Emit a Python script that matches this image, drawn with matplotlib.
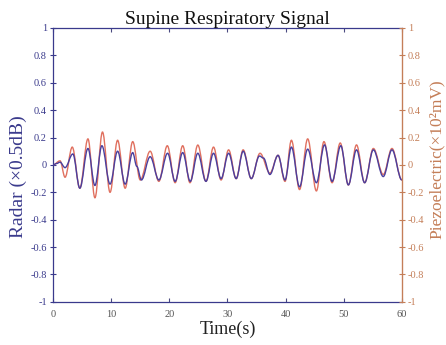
import matplotlib
matplotlib.use("Agg")
import matplotlib.pyplot as plt
from matplotlib.path import Path
from matplotlib.patches import PathPatch

# ---- data (extrema / key points) ----
radar_t = [0.0, 0.6, 1.2, 2.06, 3.4, 4.6, 6.0, 7.2, 8.4, 9.8, 11.1, 12.4, 13.7, 14.4, 15.2,
           16.7, 18.2, 19.7, 21.0, 22.3, 23.6, 24.9, 26.3, 27.6, 28.9, 30.2, 31.5, 32.7,
           34.1, 35.5, 36.2, 37.3, 38.7, 39.9, 41.0, 42.4, 43.8, 45.3, 46.7, 48.0, 49.5,
           50.8, 52.2, 53.6, 55.1, 56.8, 58.3, 60.0]
radar_v = [0.0, 0.01, 0.02, -0.02, 0.08, -0.17, 0.12, -0.15, 0.14, -0.14, 0.10, -0.14, 0.09, -0.01, -0.11,
           0.06, -0.11, 0.085, -0.12, 0.09, -0.12, 0.085, -0.12, 0.085, -0.10, 0.085, -0.10, 0.10,
           -0.10, 0.065, 0.05, -0.07, 0.07, -0.11, 0.13, -0.16, 0.115, -0.13, 0.146, -0.12, 0.14,
           -0.146, 0.11, -0.13, 0.11, -0.085, 0.11, -0.11]

piezo_t = [0.0, 1.2, 2.06, 3.3, 4.6, 6.0, 7.2, 8.5, 9.8, 11.1, 12.4, 13.7, 15.0, 16.7, 18.2,
           19.65, 21.0, 22.3, 23.55, 24.9, 26.3, 27.6, 28.9, 30.2, 31.5, 32.7, 34.1, 35.6,
           37.3, 38.7, 39.9, 41.0, 42.4, 43.8, 45.3, 46.6, 48.0, 49.4, 50.8, 52.2, 53.6,
           55.1, 56.8, 58.3, 60.0]
piezo_v = [0.0, 0.03, -0.09, 0.13, -0.17, 0.19, -0.24, 0.24, -0.20, 0.18, -0.17, 0.17, -0.11, 0.10, -0.12,
           0.14, -0.13, 0.14, -0.13, 0.145, -0.12, 0.13, -0.11, 0.11, -0.10, 0.11, -0.10, 0.085,
           -0.06, 0.07, -0.12, 0.18, -0.18, 0.19, -0.19, 0.17, -0.13, 0.16, -0.146, 0.146, -0.13,
           0.12, -0.07, 0.12, -0.11]

x_ticks = [0, 10, 20, 30, 40, 50, 60]
y_ticks = [-1, -0.8, -0.6, -0.4, -0.2, 0, 0.2, 0.4, 0.6, 0.8, 1]
y_labels = ["-1", "-0.8", "-0.6", "-0.4", "-0.2", "0", "0.2", "0.4", "0.6", "0.8", "1"]

BLUE_AX = "#3a3a8c"
ORANGE_AX = "#c47e58"
BLUE_LINE = "#4a3f9e"
RED_LINE = "#e0705f"

plt.rcParams["font.family"] = ["Liberation Serif", "DejaVu Serif"]


def smooth_path(ts, vs, k=0.36):
    verts = [(ts[0], vs[0])]
    codes = [Path.MOVETO]
    for i in range(1, len(ts)):
        t0, v0, t1, v1 = ts[i - 1], vs[i - 1], ts[i], vs[i]
        d = (t1 - t0) * k
        verts += [(t0 + d, v0), (t1 - d, v1), (t1, v1)]
        codes += [Path.CURVE4, Path.CURVE4, Path.CURVE4]
    return Path(verts, codes)


fig = plt.figure(figsize=(4.46, 3.45), dpi=100)
ax = fig.add_axes([0.119, 0.125, 0.782, 0.794])
ax.set_xlim(0, 60)
ax.set_ylim(-1, 1)

ax.add_patch(PathPatch(smooth_path(piezo_t, piezo_v), fill=False, edgecolor=RED_LINE, lw=1.0, zorder=2))
ax.add_patch(PathPatch(smooth_path(radar_t, radar_v), fill=False, edgecolor=BLUE_LINE, lw=1.0, zorder=3))

ax.set_xticks(x_ticks)
ax.set_xticklabels([str(v) for v in x_ticks])
ax.set_yticks(y_ticks)
ax.set_yticklabels(y_labels)
ax.tick_params(axis="x", direction="in", length=3, width=0.8, colors="#4a4a80",
               labelsize=7.5, top=True, pad=6)
for lab in ax.get_xticklabels():
    lab.set_color("#555555")
ax.tick_params(axis="y", direction="inout", length=5, width=0.8, colors=BLUE_AX, labelsize=7.5, pad=2)

for s in ["left", "top", "bottom"]:
    ax.spines[s].set_color(BLUE_AX)
    ax.spines[s].set_linewidth(0.9)
ax.spines["right"].set_color(ORANGE_AX)

ax2 = ax.twinx()
ax2.set_ylim(-1, 1)
ax2.set_yticks(y_ticks)
ax2.set_yticklabels(y_labels)
ax2.tick_params(axis="y", direction="inout", length=5, width=0.8, colors=ORANGE_AX, labelsize=7.5, pad=2)
ax2.spines["right"].set_color(ORANGE_AX)
ax2.spines["right"].set_linewidth(0.9)
ax2.spines["left"].set_visible(False)
ax2.spines["top"].set_visible(False)
ax2.spines["bottom"].set_visible(False)

ax.set_title("Supine Respiratory Signal", fontsize=14, color="#111111", pad=2)
ax.set_xlabel("Time(s)", fontsize=13, color="#222222", labelpad=1)
ax.set_ylabel("Radar (×0.5dB)", fontsize=14, color=BLUE_AX)
ax.yaxis.set_label_coords(-0.074, 0.456)
ax2.set_ylabel("Piezoelectric(×10²mV)", fontsize=12.5, color=ORANGE_AX)
ax2.yaxis.set_label_coords(1.077, 0.522)

fig.savefig("out.png", dpi=100)
